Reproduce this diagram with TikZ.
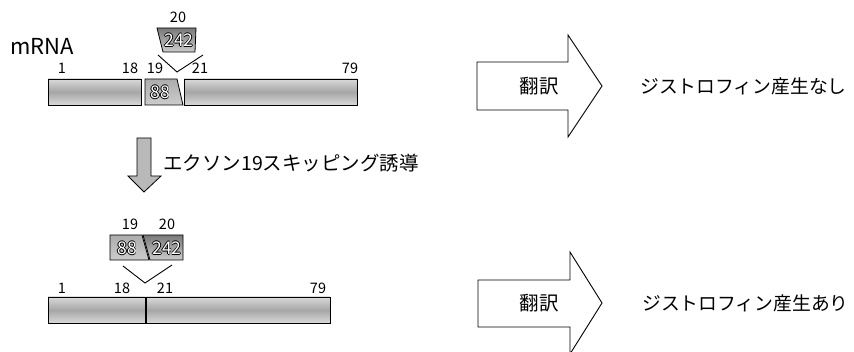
\documentclass[tikz,border=0pt]{standalone}
\usepackage{fontspec}
\setmainfont{Noto Sans CJK JP}
\newcommand\otxt[1]{\leavevmode\rlap{\kern-0.8pt\textcolor{black}{#1}}\rlap{\kern0.8pt\textcolor{black}{#1}}\rlap{\raisebox{0.8pt}{\textcolor{black}{#1}}}\rlap{\raisebox{-0.8pt}{\textcolor{black}{#1}}}\textcolor{white}{#1}}
\begin{document}
\begin{tikzpicture}[x=1pt,y=-1pt,
  bar/.style={draw=black,line width=0.8pt,top color=gray!30,bottom color=gray!30,middle color=gray!70,minimum height=26pt,inner sep=0pt},
  exA/.style={draw=black,line width=0.8pt,top color=gray!95!black,bottom color=gray!40},
  exB/.style={draw=black,line width=0.8pt,top color=gray!65,bottom color=gray!40},
  num/.style={font=\fontsize{14.5}{14.5}\selectfont,inner sep=0pt},
  inum/.style={font=\fontsize{17.5}{17.5}\selectfont,inner sep=0pt},
  jp/.style={font=\fontsize{19.5}{19.5}\selectfont,inner sep=0pt},
  res/.style={font=\fontsize{18.8}{18.8}\selectfont,inner sep=0pt,anchor=west},
  bigarrow/.style={draw=black,line width=0.9pt,fill=white,line join=miter},
  vline/.style={line width=0.9pt}]
\useasboundingbox (0,0) rectangle (854,352);

% ---------- top mRNA ----------
\node[font=\fontsize{22}{22}\selectfont,inner sep=0pt] (mrna) at (42,46) {mRNA};
\node[bar,minimum width=93pt] (t1) at (94.5,92) {};
\draw[exB] (145,79) -- (177,79) -- (183,105) -- (145,105) -- cycle;
\node[inum] (t88) at (160,92) {\otxt{88}};
\node[bar,minimum width=173pt] (t21) at (270.5,92) {};
\node[num] (tl1) at (62,68) {1};
\node[num] (tl18) at (130,68) {18};
\node[num] (tl19) at (155,68) {19};
\node[num] (tl21) at (200,68) {21};
\node[num] (tl79) at (350,68) {79};
\draw[exA] (157,28) -- (196,28) -- (195,52) -- (163,52) -- cycle;
\node[inum] (t242) at (179,40) {\otxt{242}};
\node[num] (tl20) at (178,17) {20};
\coordinate (va) at (158,55);
\coordinate (vb) at (177,72);
\coordinate (vc) at (203,55);
\draw[vline] (va) -- (vb) -- (vc);

% ---------- down arrow ----------
\draw[fill=gray!55,line width=0.8pt,line join=miter] (137,138) -- (151,138) -- (151,176) -- (161,176) -- (144,192) -- (128,176) -- (137,176) -- cycle;
\node[jp,anchor=west] (skip) at (163,163) {エクソン19スキッピング誘導};

% ---------- bottom mRNA ----------
\draw[exB] (110,235) -- (142,235) -- (149,260) -- (110,260) -- cycle;
\draw[exA] (143,235) -- (183,235) -- (183,260) -- (150,260) -- cycle;
\node[inum] (b88) at (127,248) {\otxt{88}};
\node[inum] (b242) at (167,248) {\otxt{242}};
\node[num] (bl19) at (130,224) {19};
\node[num] (bl20) at (167,224) {20};
\coordinate (wa) at (123,266);
\coordinate (wb) at (145,283);
\coordinate (wc) at (172,265);
\draw[vline] (wa) -- (wb) -- (wc);
\node[bar,minimum width=97pt] (b1) at (96.5,310) {};
\node[bar,minimum width=184pt] (b21) at (238,310) {};
\node[num] (bl1) at (62,288) {1};
\node[num] (bl18) at (122,288) {18};
\node[num] (bl21) at (165,288) {21};
\node[num] (bl79) at (318,288) {79};

% ---------- right side ----------
\draw[bigarrow] (477,62) -- (568,62) -- (568,35) -- (602,86) -- (568,137) -- (568,110) -- (477,110) -- cycle;
\node[jp] (tr1) at (539,86) {翻訳};
\node[res] (res1) at (640,86) {ジストロフィン産生なし};
\draw[bigarrow] (478,280) -- (570,280) -- (570,252) -- (602,303) -- (570,354) -- (570,327) -- (478,327) -- cycle;
\node[jp] (tr2) at (539,303) {翻訳};
\node[res] (res2) at (642,303) {ジストロフィン産生あり};
\end{tikzpicture}
\end{document}
